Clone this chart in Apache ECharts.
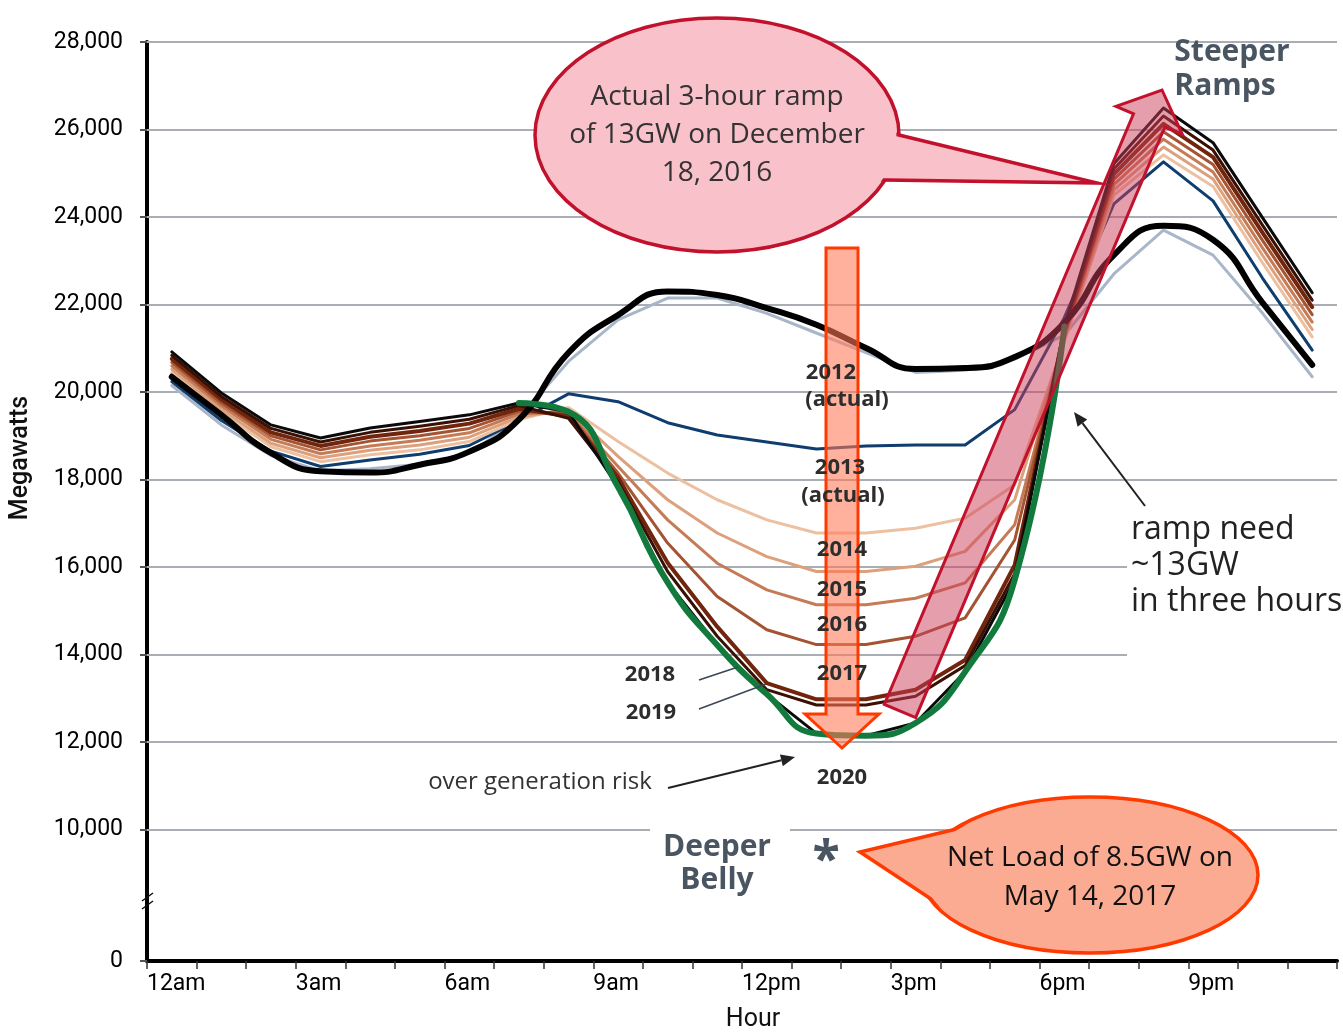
<!DOCTYPE html>
<html>
<head>
<meta charset="utf-8">
<script src="https://cdn.jsdelivr.net/npm/echarts@6/dist/echarts.min.js"></script>
<style>
  html, body { margin: 0; padding: 0; background: #fff; }
  #chart { width: 1343px; height: 1033px; }
</style>
</head>
<body>
<div id="chart"></div>
<script>
// Hourly net load (MW), one point per hour, plotted at mid-hour.
const hours = [0.5, 1.5, 2.5, 3.5, 4.5, 5.5, 6.5, 7.5, 8.5, 9.5, 10.5, 11.5,
               12.5, 13.5, 14.5, 15.5, 16.5, 17.5, 18.5, 19.5, 20.5, 21.5, 22.5, 23.5];

const hourTickLabels = ['12am', '3am', '6am', '9am', '12pm', '3pm', '6pm', '9pm'];
const mwGridValues = [10000, 12000, 14000, 16000, 18000, 20000, 22000, 24000, 26000, 28000];
const axisFloor = 7000;   // bottom of the broken axis, shown as "0"

const load2012 = [20150, 19250, 18550, 18200, 18250, 18350, 18600, 19400, 20700, 21650, 22150, 22150,
                  21800, 21350, 20900, 20450, 20500, 20750, 21300, 22700, 23700, 23130, 21800, 20350];
const load2013 = [20240, 19350, 18650, 18300, 18450, 18580, 18780, 19350, 19960, 19780, 19300, 19020,
                  18860, 18700, 18770, 18790, 18790, 19600, 21700, 24300, 25260, 24370, 22600, 20960];
const load2014 = [20440, 19530, 18750, 18410, 18570, 18680, 18870, 19370, 19650, 18870, 18150, 17540,
                  17080, 16780, 16780, 16890, 17120, 17880, 21150, 24500, 25420, 24700, 22950, 21260];
const load2015 = [20520, 19600, 18830, 18500, 18670, 18790, 18970, 19430, 19600, 18530, 17540, 16780,
                  16240, 15900, 15900, 16020, 16360, 17540, 21200, 24620, 25600, 24870, 23120, 21430];
const load2016 = [20600, 19680, 18920, 18590, 18770, 18900, 19070, 19500, 19550, 18300, 17080, 16090,
                  15480, 15140, 15140, 15290, 15640, 16970, 21250, 24740, 25780, 25030, 23290, 21600];
const load2017 = [20680, 19750, 19000, 18680, 18880, 19000, 19170, 19560, 19500, 18150, 16550, 15330,
                  14570, 14230, 14230, 14420, 14840, 16620, 21300, 24860, 25950, 25200, 23460, 21770];
const load2018 = [20760, 19830, 19080, 18770, 18980, 19110, 19280, 19620, 19450, 18050, 16100, 14640,
                  13350, 12980, 12980, 13200, 13880, 16050, 21400, 24980, 26130, 25370, 23640, 21940];
const load2019 = [20840, 19900, 19170, 18860, 19080, 19220, 19380, 19690, 19400, 17950, 15900, 14420,
                  13200, 12850, 12850, 13050, 13750, 15850, 21450, 25100, 26310, 25530, 23810, 22100];
const load2020 = [20920, 19980, 19250, 18950, 19180, 19330, 19480, 19750, 19550, 17830, 15650, 14220,
                  13100, 12200, 12150, 12440, 13610, 15710, 21500, 25220, 26490, 25700, 23980, 22270];
// Actual day, December 18, 2016
const loadDec2016 = [20350, 19480, 18610, 18190, 18160, 18340, 18640, 19370, 20900, 21760, 22300, 22220,
                     21920, 21540, 21010, 20530, 20550, 20800, 21580, 23130, 23800, 23480, 22040, 20620];
// Belly of the 2020 curve (7am–6pm) highlighted in green
const bellyFirst = 7, bellyLast = 18;

const pts = vals => vals.map((v, i) => [hours[i], v]);

function line(name, vals, color, width, extra) {
  return Object.assign({
    type: 'line', name: name, data: pts(vals), symbol: 'none', silent: true,
    lineStyle: { color: color, width: width, join: 'round', cap: 'round' },
    z: 3
  }, extra || {});
}

const FONT = '"Open Sans", "Noto Sans", sans-serif';
const AXFONT = 'Roboto, "Liberation Sans", sans-serif';

const chart = echarts.init(document.getElementById('chart'), null, { renderer: 'canvas' });

const series = [
  line('2012 (actual)', load2012, '#a9b6c9', 3, {
    markLine: {
      silent: true, symbol: ['none', 'none'], label: { show: false },
      lineStyle: { color: '#a9adb4', width: 2, type: 'solid' },
      data: mwGridValues.map(v => ({ yAxis: v })),
      z: 1
    }
  }),
  line('2013 (actual)', load2013, '#0f3d6e', 3),
  line('2014', load2014, '#ecc0a0', 3),
  line('2015', load2015, '#dca07c', 3),
  line('2016', load2016, '#c47b56', 3),
  line('2017', load2017, '#a45333', 3),
  line('2018', load2018, '#70250c', 4),
  line('2019', load2019, '#3a0f04', 3),
  line('2020', load2020, '#0a0a0a', 3),
  line('Dec 18, 2016', loadDec2016, '#000000', 6, { smooth: 0.5, z: 4 }),
  {
    type: 'line', name: '2020 belly', symbol: 'none', silent: true, smooth: 0.5, z: 5,
    data: pts(load2020).slice(bellyFirst, bellyLast + 1),
    lineStyle: { color: '#137a3d', width: 6, cap: 'round' }
  }
];

// ---- annotation helpers ----
function txt(text, x, y, font, fill, align, extra) {
  return Object.assign({
    type: 'text', x: x, y: y, z: 80, silent: true,
    style: { text: text, font: font, fill: fill, textAlign: align || 'center', textVerticalAlign: 'middle',
             align: align || 'center', verticalAlign: 'middle' }
  }, extra || {});
}

function blockArrow(bx, by, tx, ty, shaftHalf, headHalf, headLen, fill, stroke, z) {
  const L = Math.hypot(tx - bx, ty - by);
  const dx = (tx - bx) / L, dy = (ty - by) / L;
  const nx = -dy, ny = dx;
  const hx = tx - dx * headLen, hy = ty - dy * headLen;
  return {
    type: 'polygon', z: z, silent: true,
    shape: { points: [
      [bx + nx * shaftHalf, by + ny * shaftHalf],
      [hx + nx * shaftHalf, hy + ny * shaftHalf],
      [hx + nx * headHalf, hy + ny * headHalf],
      [tx, ty],
      [hx - nx * headHalf, hy - ny * headHalf],
      [hx - nx * shaftHalf, hy - ny * shaftHalf],
      [bx - nx * shaftHalf, by - ny * shaftHalf]
    ] },
    style: { fill: fill, stroke: stroke, lineWidth: 3, lineJoin: 'miter' }
  };
}

function thinArrow(x1, y1, x2, y2, color, z) {
  const L = Math.hypot(x2 - x1, y2 - y1);
  const dx = (x2 - x1) / L, dy = (y2 - y1) / L;
  const nx = -dy, ny = dx;
  const hl = 14, hw = 6;
  const hx = x2 - dx * hl, hy = y2 - dy * hl;
  return [
    { type: 'line', z: z, silent: true, shape: { x1: x1, y1: y1, x2: hx, y2: hy },
      style: { stroke: color, lineWidth: 2 } },
    { type: 'polygon', z: z, silent: true,
      shape: { points: [[x2, y2], [hx + nx * hw, hy + ny * hw], [hx - nx * hw, hy - ny * hw]] },
      style: { fill: color } }
  ];
}

// Speech bubble: ellipse + tail whose base points lie on the ellipse at heights y1, y2
function bubble(cx, cy, rx, ry, side, y1, y2, tipX, tipY, fill, stroke, z) {
  const onEllipse = y => {
    const s = (y - cy) / ry;
    const c = Math.sqrt(Math.max(0, 1 - s * s));
    return [cx + side * rx * c, y];
  };
  const inward = (p) => {
    const L = Math.hypot(p[0] - tipX, p[1] - tipY);
    return [p[0] + (p[0] - tipX) / L * 16, p[1] + (p[1] - tipY) / L * 16];
  };
  const p1 = inward(onEllipse(y1)), p2 = inward(onEllipse(y2));
  return [
    { type: 'ellipse', z: z, silent: true, shape: { cx: cx, cy: cy, rx: rx, ry: ry },
      style: { fill: fill, stroke: stroke, lineWidth: 3.5 } },
    { type: 'polygon', z: z + 1, silent: true, shape: { points: [p1, [tipX, tipY], p2] },
      style: { fill: fill, stroke: stroke, lineWidth: 3.5, lineJoin: 'miter' } },
    { type: 'ellipse', z: z + 2, silent: true, shape: { cx: cx, cy: cy, rx: rx - 2.6, ry: ry - 2.6 },
      style: { fill: fill } }
  ];
}

const LABEL = '#2d2d2d';
const SLATE = '#4a5562';
const yearFont = 'bold 22px ' + FONT;
const bubbleFont = '28px ' + FONT;

const graphics = [].concat(
  // white backing behind side notes
  [{ type: 'rect', z: 50, silent: true, shape: { x: 1127, y: 508, width: 216, height: 151 }, style: { fill: '#fff' } },
   { type: 'rect', z: 50, silent: true, shape: { x: 650, y: 827, width: 140, height: 74 }, style: { fill: '#fff' } }],

  // axis titles and break mark
  [txt('Megawatts', 21, 458, '500 25px ' + AXFONT, '#111', 'center', { rotation: Math.PI / 2 }),
   txt('Hour', 753, 1020, '25px ' + AXFONT, '#111'),
   { type: 'line', z: 60, silent: true, shape: { x1: 142, y1: 901, x2: 153, y2: 893 }, style: { stroke: '#111', lineWidth: 1.5 } },
   { type: 'line', z: 60, silent: true, shape: { x1: 142, y1: 909, x2: 153, y2: 901 }, style: { stroke: '#111', lineWidth: 1.5 } }],

  // year labels
  [txt('2012', 831, 373, yearFont, LABEL),
   txt('(actual)', 847, 400, yearFont, LABEL),
   txt('2013', 840, 468, yearFont, LABEL),
   txt('(actual)', 843, 496, yearFont, LABEL),
   txt('2014', 842, 550, yearFont, LABEL),
   txt('2015', 842, 590, yearFont, LABEL),
   txt('2016', 842, 625, yearFont, LABEL),
   txt('2017', 842, 674, yearFont, LABEL),
   txt('2018', 650, 675, yearFont, LABEL),
   txt('2019', 651, 713, yearFont, LABEL),
   txt('2020', 842, 778, yearFont, LABEL),
   { type: 'line', z: 60, silent: true, shape: { x1: 699, y1: 680, x2: 738, y2: 667 }, style: { stroke: '#3b4656', lineWidth: 1.5 } },
   { type: 'line', z: 60, silent: true, shape: { x1: 699, y1: 709, x2: 766, y2: 684 }, style: { stroke: '#3b4656', lineWidth: 1.5 } }],

  // vertical "deeper belly" arrow
  [blockArrow(842, 248, 842, 748, 16, 37, 34, 'rgba(255,120,88,0.58)', '#ff3a00', 65)],

  // ramp arrow
  [blockArrow(900, 711, 1162, 90, 17, 36, 33, 'rgba(204,62,88,0.5)', '#c1112c', 65)],

  // over generation note
  [txt('over generation risk', 540, 782, '24px ' + FONT, '#333')].concat(thinArrow(668, 788, 795, 757, '#222', 60)),

  // ramp need note
  [txt('ramp need', 1131, 530, '32px ' + FONT, '#222', 'left'),
   txt('~13GW', 1131, 566, '32px ' + FONT, '#222', 'left'),
   txt('in three hours', 1131, 602, '32px ' + FONT, '#222', 'left')].concat(thinArrow(1145, 506, 1074, 412, '#222', 60)),

  // headline notes
  [txt('Steeper', 1232, 52, 'bold 30px ' + FONT, SLATE),
   txt('Ramps', 1225, 86, 'bold 30px ' + FONT, SLATE),
   txt('Deeper', 717, 847, 'bold 30px ' + FONT, SLATE),
   txt('Belly', 717, 880, 'bold 30px ' + FONT, SLATE),
   txt('*', 826, 862, 'bold 50px ' + FONT, SLATE)],

  // callout bubbles
  bubble(717, 135, 182, 117, 1, 135, 180, 1097, 183, '#f9c1c9', '#c1112c', 70),
  [txt('Actual 3-hour ramp', 717, 97, bubbleFont, '#333', 'center', { z: 90 }),
   txt('of 13GW on December', 717, 135, bubbleFont, '#333', 'center', { z: 90 }),
   txt('18, 2016', 717, 173, bubbleFont, '#333', 'center', { z: 90 })],
  bubble(1090, 875, 168, 78, -1, 830, 898, 860, 852, '#fcab93', '#ff3a00', 70),
  [txt('Net Load of 8.5GW on', 1090, 858, bubbleFont, '#111', 'center', { z: 90 }),
   txt('May 14, 2017', 1090, 897, bubbleFont, '#111', 'center', { z: 90 })]
);

chart.setOption({
  animation: false,
  backgroundColor: '#fff',
  grid: { left: 147, right: 6, top: 42, bottom: 72, containLabel: false },
  xAxis: {
    type: 'value', min: 0, max: 24, interval: 1,
    axisLine: { show: true, onZero: false, lineStyle: { color: '#000', width: 4 } },
    axisTick: { show: true, length: 8, lineStyle: { color: '#333', width: 1.5 } },
    splitLine: { show: false },
    axisLabel: {
      margin: 12, align: 'left', color: '#000', fontSize: 23, fontFamily: AXFONT,
      formatter: v => (v % 3 === 0 && v < 24) ? hourTickLabels[v / 3] : ''
    }
  },
  yAxis: {
    type: 'value', min: axisFloor, max: 28000, interval: 1000,
    axisLine: { show: true, lineStyle: { color: '#000', width: 4 } },
    axisTick: { show: true, length: 7, customValues: [axisFloor].concat(mwGridValues),
                lineStyle: { color: '#555', width: 2 } },
    splitLine: { show: false },
    axisLabel: {
      margin: 24, color: '#000', fontSize: 23, fontFamily: AXFONT,
      customValues: [axisFloor].concat(mwGridValues),
      formatter: v => v === axisFloor ? '0' : v.toLocaleString('en-US')
    }
  },
  series: series,
  graphic: { elements: graphics }
});
</script>
</body>
</html>
